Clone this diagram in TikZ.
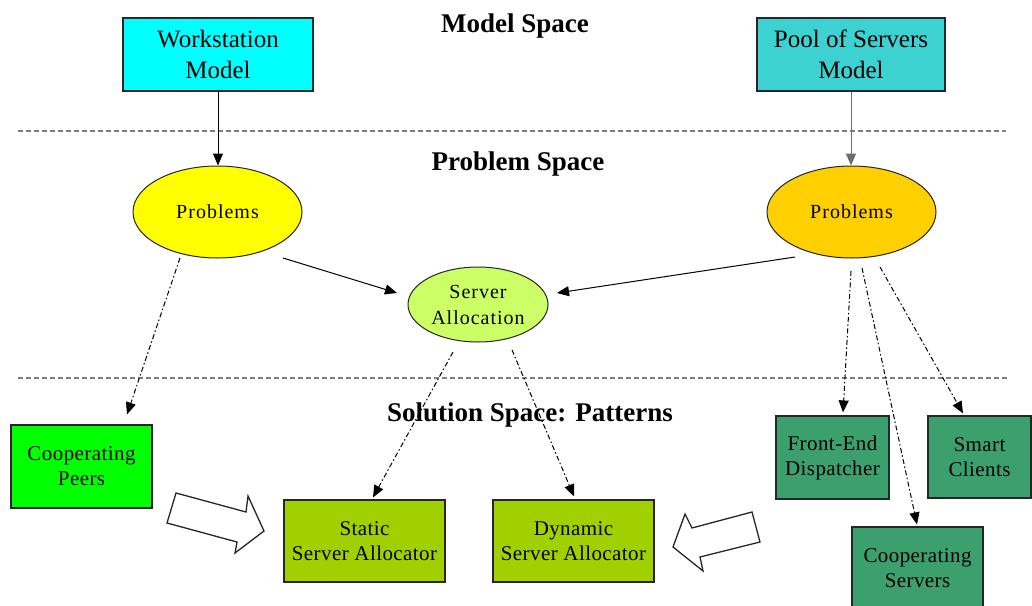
\documentclass[tikz,border=0pt]{standalone}
\usepackage{fontspec}
\setmainfont{Liberation Serif}
\newfontfamily\ellserif[LetterSpace=5]{Liberation Serif}
\newfontfamily\boxserif[LetterSpace=2]{Liberation Serif}
\usetikzlibrary{arrows.meta,shapes.geometric,calc}
\definecolor{wscyan}{RGB}{0,255,255}
\definecolor{poolcyan}{RGB}{60,210,210}
\definecolor{lpyellow}{RGB}{255,255,0}
\definecolor{rpgold}{RGB}{255,208,0}
\definecolor{salime}{RGB}{204,255,102}
\definecolor{peergreen}{RGB}{0,255,0}
\definecolor{allocgreen}{RGB}{160,208,0}
\definecolor{seagreen}{RGB}{60,160,110}
\begin{document}
\begin{tikzpicture}[x=1pt,y=-1pt,
  mbox/.style={draw=black!85, line width=1.2pt, inner sep=0pt, align=center,
    font=\fontsize{25}{31}\selectfont},
  sbox/.style={draw=black!85, line width=1.2pt, inner sep=0pt, align=center,
    font=\boxserif\fontsize{21}{25}\selectfont},
  ell/.style={ellipse, draw=black!85, line width=1pt, inner sep=0pt, align=center,
    font=\ellserif\fontsize{20}{26}\selectfont},
  arr/.style={-{Triangle[length=12pt,width=10pt]}, line width=1pt},
  darr/.style={arr, dash pattern=on 5pt off 2.5pt on 1.5pt off 2.5pt},
  sep/.style={gray, line width=1.3pt, dash pattern=on 5pt off 3pt},
  title/.style={font=\bfseries\fontsize{27}{30}\selectfont, anchor=base},
  blockarrow/.style={draw=black!85, line width=1.3pt, fill=white, line join=miter}
]
\clip (0,0) rectangle (1032,605);
\fill[white] (0,0) rectangle (1032,605);

% separators
\draw[sep] (18,131) -- (1006,131);
\draw[sep] (18,378) -- (1009,378);

% titles
\node[title] (tmodel) at (515,32) {Model Space};
\node[title] (tproblem) at (518,170) {Problem Space};
\node[title] (tsolution) at (530,421) {Solution Space: Patterns};

% model nodes
\node[mbox, fill=wscyan, minimum width=190pt, minimum height=73pt] (ws) at (218,54.5) {Workstation\\Model};
\node[mbox, fill=poolcyan, minimum width=188pt, minimum height=73pt] (pool) at (851,54.5) {Pool of Servers\\Model};

% problem nodes
\node[ell, fill=lpyellow, minimum width=169pt, minimum height=92pt] (lp) at (217.5,212) {Problems};
\node[ell, fill=rpgold, minimum width=169pt, minimum height=92pt] (rp) at (851.5,212) {Problems};
\node[ell, fill=salime, minimum width=140pt, minimum height=75pt] (sa) at (478,304.5) {Server\\Allocation};

% solution nodes
\node[sbox, fill=peergreen, minimum width=141pt, minimum height=83pt] (cp) at (81.5,466.5) {Cooperating\\Peers};
\node[sbox, fill=allocgreen, minimum width=161pt, minimum height=82pt] (ssa) at (364.5,541) {Static\\Server Allocator};
\node[sbox, fill=allocgreen, minimum width=161pt, minimum height=82pt] (dsa) at (573.5,541) {Dynamic\\Server Allocator};
\node[sbox, fill=seagreen, minimum width=113pt, minimum height=83pt] (fed) at (832.5,457.5) {Front-End\\Dispatcher};
\node[sbox, fill=seagreen, minimum width=103pt, minimum height=82pt] (sc) at (979.5,457) {Smart\\Clients};
\node[sbox, fill=seagreen, minimum width=131pt, minimum height=83pt] (cs) at (917.5,568.5) {Cooperating\\Servers};

% connectors
\draw[arr] (ws.south) -- (ws.south |- lp.north);
\draw[arr, draw=gray!85!black] (pool.south) -- (pool.south |- rp.north);
\draw[arr] ($(lp.center)+(65.5,46)$) -- ($(sa.center)+(-81,-11.5)$);
\draw[arr] ($(rp.center)+(-56.5,45)$) -- ($(sa.center)+(79,-11.5)$);
\draw[darr] ($(lp.center)+(-37.5,46)$) -- ($(cp.north)+(45.5,-10)$);
\draw[darr] ($(sa.center)+(-25,47.5)$) -- ($(ssa.north)+(8.5,-2)$);
\draw[darr] ($(sa.center)+(34,45.5)$) -- ($(dsa.north)+(0.5,-3)$);
\draw[darr] ($(rp.center)+(-0.5,59)$) -- ($(fed.north)+(10.5,-3)$);
\draw[darr] ($(rp.center)+(10.5,56)$) -- ($(cs.north)+(-0.5,-2)$);
\draw[darr] ($(rp.center)+(28.5,55)$) -- ($(sc.north)+(-16.5,-2)$);

% block arrows
\draw[blockarrow] (176,493) -- (246,512) -- (248,496) -- (264,531) -- (235,553) -- (237,542) -- (167,523) -- cycle;
\draw[blockarrow] (752,512) -- (760,542) -- (700,557) -- (703,571) -- (673,547) -- (685,514) -- (692,528) -- cycle;
\end{tikzpicture}
\end{document}
